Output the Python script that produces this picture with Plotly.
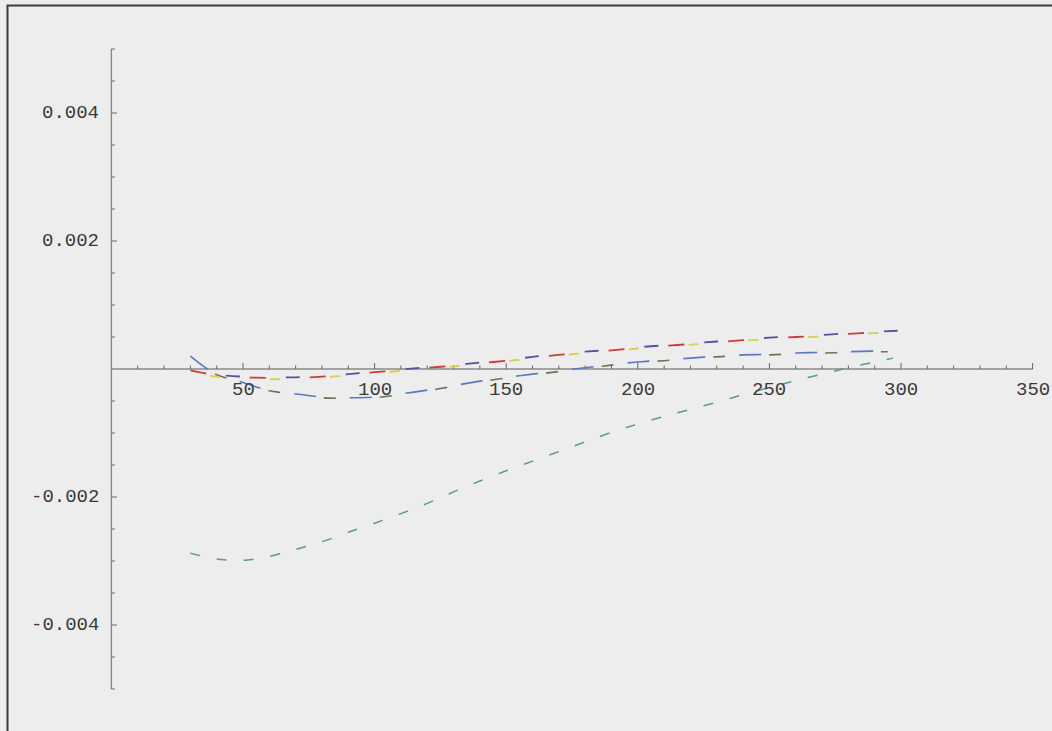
import plotly.graph_objects as go

# ---- data ---------------------------------------------------------------
x_upper = [30, 40, 50, 60, 70, 80, 90, 100, 110, 120, 130, 140, 150, 160, 170,
           180, 190, 200, 210, 220, 230, 240, 250, 260, 270, 280, 290, 300]
y_upper_red = [-0.00002, -0.00010, -0.00013, -0.00014, -0.00014, -0.00012, -0.00009,
               -0.00005, -0.00002, 0.00002, 0.00005, 0.00009, 0.00013, 0.00018,
               0.00022, 0.00026, 0.00029, 0.00033, 0.00036, 0.00039, 0.00042,
               0.00045, 0.00048, 0.00050, 0.00052, 0.00055, 0.00057, 0.00059]
y_upper_yellow = [-0.00006, -0.00012, -0.00015, -0.00016, -0.00015, -0.00013, -0.00010,
                  -0.00006, -0.00003, 0.00001, 0.00004, 0.00008, 0.00012, 0.00017,
                  0.00021, 0.00025, 0.00028, 0.00032, 0.00035, 0.00038, 0.00041,
                  0.00044, 0.00047, 0.00049, 0.00051, 0.00054, 0.00056, 0.00058]
y_upper_purple = [-0.00001, -0.00009, -0.00012, -0.00013, -0.00013, -0.00011, -0.00008,
                  -0.00004, -0.00001, 0.00003, 0.00006, 0.00010, 0.00014, 0.00019,
                  0.00023, 0.00027, 0.00030, 0.00034, 0.00037, 0.00040, 0.00043,
                  0.00046, 0.00049, 0.00051, 0.00053, 0.00056, 0.00058, 0.00060]

x_lower = [30, 35, 40, 45, 50, 55, 60, 70, 80, 90, 100, 110, 120, 130, 140, 150,
           160, 170, 180, 190, 200, 210, 220, 230, 240, 250, 260, 270, 280, 290, 295]
y_lower_blue = [0.00020, 0.00004, -0.00008, -0.00015, -0.00021, -0.00028, -0.00033,
                -0.00039, -0.00044, -0.00045, -0.00044, -0.00039, -0.00033, -0.00026,
                -0.00019, -0.00013, -0.00008, -0.00003, 0.00002, 0.00007, 0.00011,
                0.00014, 0.00017, 0.00020, 0.00022, 0.00023, 0.00025, 0.00026,
                0.00027, 0.00028, 0.00028]
y_lower_olive = [0.00019, 0.00003, -0.00009, -0.00016, -0.00022, -0.00029, -0.00034,
                 -0.00040, -0.00045, -0.00046, -0.00045, -0.00040, -0.00034, -0.00027,
                 -0.00020, -0.00014, -0.00009, -0.00004, 0.00001, 0.00006, 0.00010,
                 0.00013, 0.00016, 0.00019, 0.00021, 0.00022, 0.00024, 0.00025,
                 0.00026, 0.00027, 0.00027]

x_dip = [30, 40, 50, 60, 70, 80, 90, 100, 110, 120, 130, 140, 150, 160, 170, 180,
         190, 200, 210, 220, 230, 240, 250, 260, 270, 280, 290, 297]
y_dip = [-0.00288, -0.00297, -0.00299, -0.00293, -0.00282, -0.00270, -0.00255,
         -0.00241, -0.00226, -0.00210, -0.00192, -0.00175, -0.00159, -0.00144,
         -0.00129, -0.00114, -0.00099, -0.00086, -0.00074, -0.00063, -0.00052,
         -0.00040, -0.00029, -0.00018, -0.00008, 0.00002, 0.00011, 0.00017]

x_minor_ticks = list(range(10, 351, 10))
x_major_ticks = [50, 100, 150, 200, 250, 300, 350]
x_tick_labels = ["50", "100", "150", "200", "250", "300", "350"]
y_minor_ticks = [-0.005, -0.0045, -0.004, -0.0035, -0.003, -0.0025, -0.002, -0.0015,
                 -0.001, -0.0005, 0.0005, 0.001, 0.0015, 0.002, 0.0025, 0.003,
                 0.0035, 0.004, 0.0045, 0.005]
y_major_ticks = [-0.004, -0.002, 0.002, 0.004]
y_tick_labels = ["-0.004", "-0.002", "0.002", "0.004"]

# ---- geometry of the drawing ----------------------------------------------
W, H = 1052, 731
PX_PER_X = 2.632          # pixels per x unit
PX_PER_Y = 64000.0        # pixels per y unit
X0_PX, Y0_PX = 111.4, 369.0
x_range = [-X0_PX / PX_PER_X, (W - X0_PX) / PX_PER_X]
y_range = [-(H - Y0_PX) / PX_PER_Y, Y0_PX / PX_PER_Y]

BG = "#ededed"
AXIS = "#8a8a8a"
TXT = "#3a3a3a"
FONT = "Liberation Mono, Courier New, monospace"

fig = go.Figure()


def add_line(xs, ys, color, dash, width=1.7):
    fig.add_trace(go.Scatter(x=xs, y=ys, mode="lines",
                             line=dict(color=color, width=width, dash=dash,
                                       shape="spline", smoothing=0.6),
                             hoverinfo="skip", showlegend=False))


# lower pair of curves: dashes of one fall into the gaps of the other
add_line(x_lower, y_lower_blue, "#5a78c4", "22px,34px", 1.6)
add_line(x_lower, y_lower_olive, "#6f7158", "0px,30px,12px,14px", 1.6)
# deep dip curve
add_line(x_dip, y_dip, "#5f9a86", "10px,17px", 1.5)
# upper bundle of curves
add_line(x_upper, y_upper_yellow, "#d8cf4a", "0px,20px,10px,30px", 1.8)
add_line(x_upper, y_upper_red, "#d23a3a", "16px,44px", 1.8)
add_line(x_upper, y_upper_purple, "#5a4fa2", "0px,36px,14px,10px", 1.8)

shapes = []
# axes crossing at the origin
shapes.append(dict(type="line", xref="x", yref="y", x0=0, x1=350, y0=0, y1=0,
                   line=dict(color=AXIS, width=1.6), layer="below"))
shapes.append(dict(type="line", xref="x", yref="y", x0=0, x1=0, y0=-0.005, y1=0.005,
                   line=dict(color=AXIS, width=1.4), layer="below"))
# x ticks (pointing up)
for t in x_minor_ticks:
    L = 6.0 if t in x_major_ticks else 3.5
    shapes.append(dict(type="line", xref="x", yref="y", x0=t, x1=t,
                       y0=0, y1=L / PX_PER_Y,
                       line=dict(color="#666666", width=1), layer="below"))
# y ticks (pointing right)
for t in y_minor_ticks:
    L = 5.5 if any(abs(t - m) < 1e-9 for m in y_major_ticks) else 3.5
    shapes.append(dict(type="line", xref="x", yref="y", x0=0, x1=L / PX_PER_X,
                       y0=t, y1=t,
                       line=dict(color="#666666", width=1), layer="below"))
# outer frame
shapes.append(dict(type="rect", xref="paper", yref="paper",
                   x0=7.5 / W, x1=1.02, y0=1 - 5.5 / H, y1=-0.02,
                   line=dict(color="#3c3c3c", width=2), layer="below"))

annotations = []
for t, lab in zip(x_major_ticks, x_tick_labels):
    annotations.append(dict(x=t, y=0, xref="x", yref="y", text=lab, showarrow=False,
                            xanchor="center", yanchor="middle", yshift=-21,
                            font=dict(family=FONT, size=19, color=TXT)))
for t, lab in zip(y_major_ticks, y_tick_labels):
    annotations.append(dict(x=0, y=t, xref="x", yref="y", text=lab, showarrow=False,
                            xanchor="right", yanchor="middle", xshift=-10,
                            font=dict(family=FONT, size=19, color=TXT)))

fig.update_layout(
    width=W, height=H,
    margin=dict(l=0, r=0, t=0, b=0),
    paper_bgcolor=BG, plot_bgcolor=BG,
    xaxis=dict(range=x_range, visible=False, fixedrange=True),
    yaxis=dict(range=y_range, visible=False, fixedrange=True),
    shapes=shapes, annotations=annotations,
    showlegend=False,
)

fig.write_html("out.html", config={"displayModeBar": False})
